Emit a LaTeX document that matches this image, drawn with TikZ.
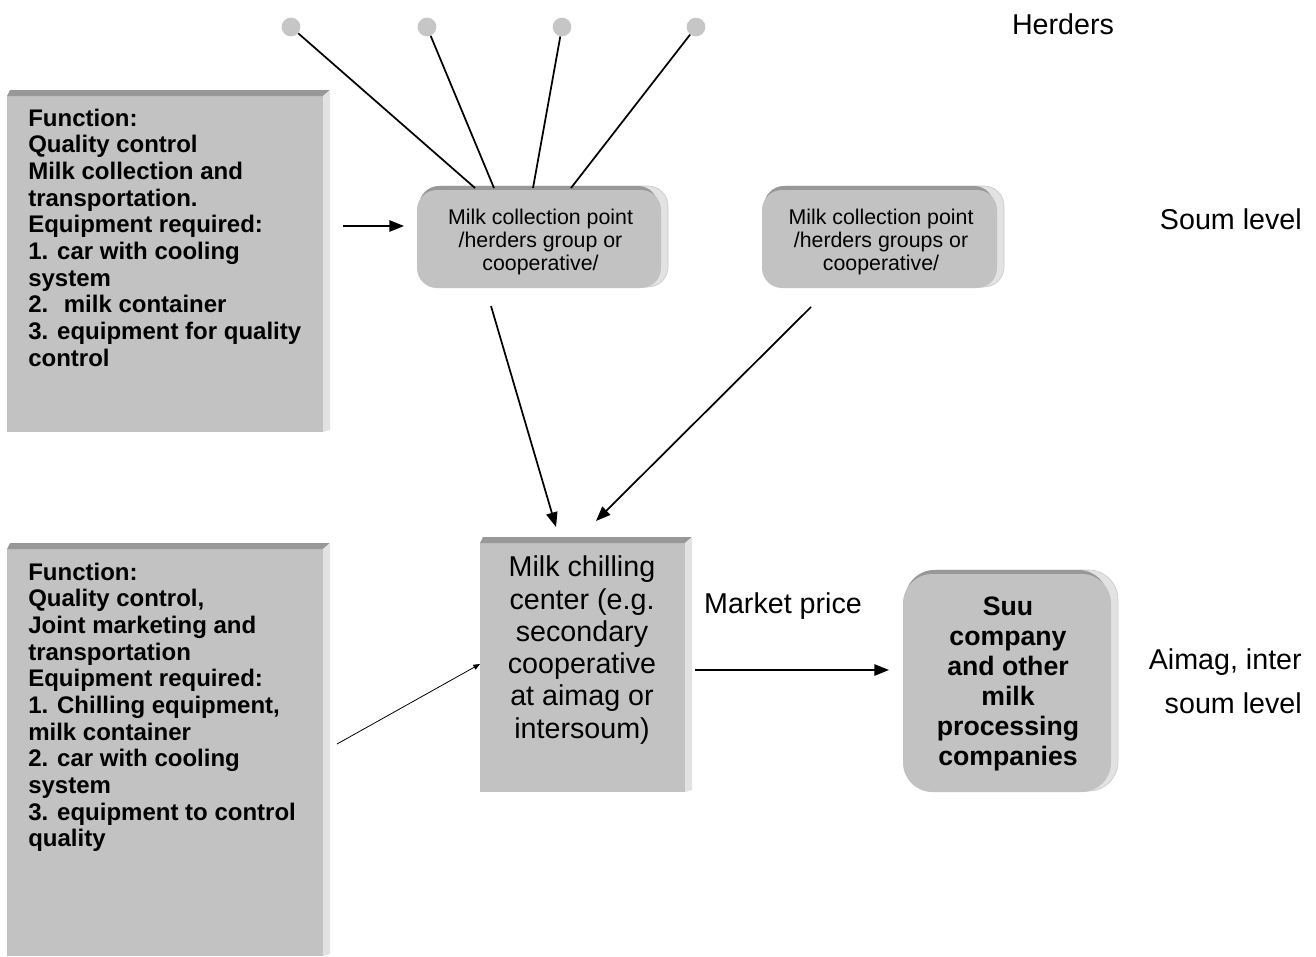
\documentclass[tikz,border=0pt]{standalone}
\usepackage{fontspec}
\setmainfont{Liberation Sans}
\usetikzlibrary{arrows.meta}

\definecolor{facegray}{RGB}{194,194,194}
\definecolor{topgray}{RGB}{152,152,152}
\definecolor{rimgray}{RGB}{226,226,226}
\definecolor{dotgray}{RGB}{198,198,198}

% bevelled rectangle: x1 y1 x2 y2 (pixel units, y grows downwards)
\newcommand\bevelrect[4]{%
  \fill[facegray] (#1,#2+6) rectangle (#3-7,#4);
  \fill[topgray] (#1,#2+6) -- (#1+3,#2) -- (#3,#2) -- (#3-7,#2+6) -- cycle;
  \fill[rimgray] (#3-7,#2+6) -- (#3,#2) -- (#3,#4-2) -- (#3-7,#4) -- cycle;
}
% bevelled rounded box: x1 y1 x2 y2 radius
\newcommand\bevelround[5]{%
  \path[fill=rimgray, draw=gray!45, rounded corners=#5] (#1+4,#2) rectangle (#3,#4-1);
  \path[fill=topgray, rounded corners=#5] (#1+2,#2) rectangle (#3-10,#4-10);
  \path[fill=facegray, rounded corners=#5] (#1,#2+4) rectangle (#3-7,#4);
}

\tikzset{
  dot/.style={circle, fill=dotgray, inner sep=0pt, minimum size=14pt},
  link/.style={line width=1.3pt},
  arr/.style={line width=1.3pt, -{Triangle[length=11pt,width=8.5pt]}},
  thinarr/.style={line width=0.6pt, -{Triangle[length=5pt,width=4pt]}},
  fntext/.style={anchor=north west, inner sep=0pt, align=left,
    font=\fontsize{18}{20}\selectfont\bfseries},
  cptext/.style={inner sep=0pt, align=center,
    font=\fontsize{16}{17.3}\selectfont},
  bigtext/.style={inner sep=0pt, align=center,
    font=\fontsize{21.5}{24.2}\selectfont},
  suutext/.style={inner sep=0pt, align=center,
    font=\fontsize{20}{22.5}\selectfont\bfseries},
  lbl/.style={inner sep=0pt, font=\fontsize{21.5}{33}\selectfont},
}

\begin{document}
\begin{tikzpicture}[x=0.75pt, y=-0.75pt]
\useasboundingbox (0,0) rectangle (1316,956);
\fill[white] (0,0) rectangle (1316,956);

% ---- boxes
\bevelrect{7}{90}{330}{432}
\bevelrect{7}{543}{330}{956}
\bevelrect{480}{537}{692}{792}
\bevelround{417}{186}{668}{288}{15pt}
\bevelround{762}{186}{1004}{288}{15pt}
\bevelround{903}{570}{1118}{792}{22pt}

% ---- herders
\node[dot] (h1) at (291,27) {};
\node[dot] (h2) at (427,27) {};
\node[dot] (h3) at (562,27) {};
\node[dot] (h4) at (696,27) {};
\node[lbl] (herders) at (1063,24) {Herders};

% ---- texts
\node[fntext] (fn1) at (28,108.5) {Function:\\Quality control\\Milk collection and\\transportation.\\Equipment required:\\1. car with cooling\\system\\2.~ milk container\\3. equipment for quality\\control};
\node[fntext] (fn2) at (28,562.5) {Function:\\Quality control,\\Joint marketing and\\transportation\\Equipment required:\\1. Chilling equipment,\\milk container\\2. car with cooling\\system\\3. equipment to control\\quality};

\node[cptext] (cp1) at (540.5,242) {Milk collection point\\/herders group or\\cooperative/};
\node[cptext] (cp2) at (881,242) {Milk collection point\\/herders groups or\\cooperative/};

\node[bigtext] (chill) at (582,650) {Milk chilling\\center (e.g.\\secondary\\cooperative\\at aimag or\\intersoum)};
\node[suutext] (suu) at (1008,684) {Suu\\company\\and other\\milk\\processing\\companies};

\node[lbl] (price) at (783,606) {Market price};
\node[lbl, anchor=east] (soum) at (1302,219) {Soum level};
\node[lbl, anchor=east, align=right] (aimag) at (1302,681) {Aimag, inter\\soum level};

% ---- connector end points
\coordinate (t1) at (475,188);
\coordinate (t2) at (494,188);
\coordinate (t3) at (533,188);
\coordinate (t4) at (571,188);
\coordinate (f1) at (343,226);
\coordinate (f2) at (404,226);
\coordinate (d1s) at (491,306);
\coordinate (d1e) at (556,527);
\coordinate (d2s) at (811,307);
\coordinate (d2e) at (596,521);
\coordinate (g1) at (337,744);
\coordinate (g2) at (480,664);
\coordinate (m1) at (695,670);
\coordinate (m2) at (889,670);

% ---- connectors
\draw[link] (h1) -- (t1);
\draw[link] (h2) -- (t2);
\draw[link] (h3) -- (t3);
\draw[link] (h4) -- (t4);
\draw[arr] (f1) -- (f2);
\draw[arr] (d1s) -- (d1e);
\draw[arr] (d2s) -- (d2e);
\draw[thinarr] (g1) -- (g2);
\draw[arr] (m1) -- (m2);
\end{tikzpicture}
\end{document}
